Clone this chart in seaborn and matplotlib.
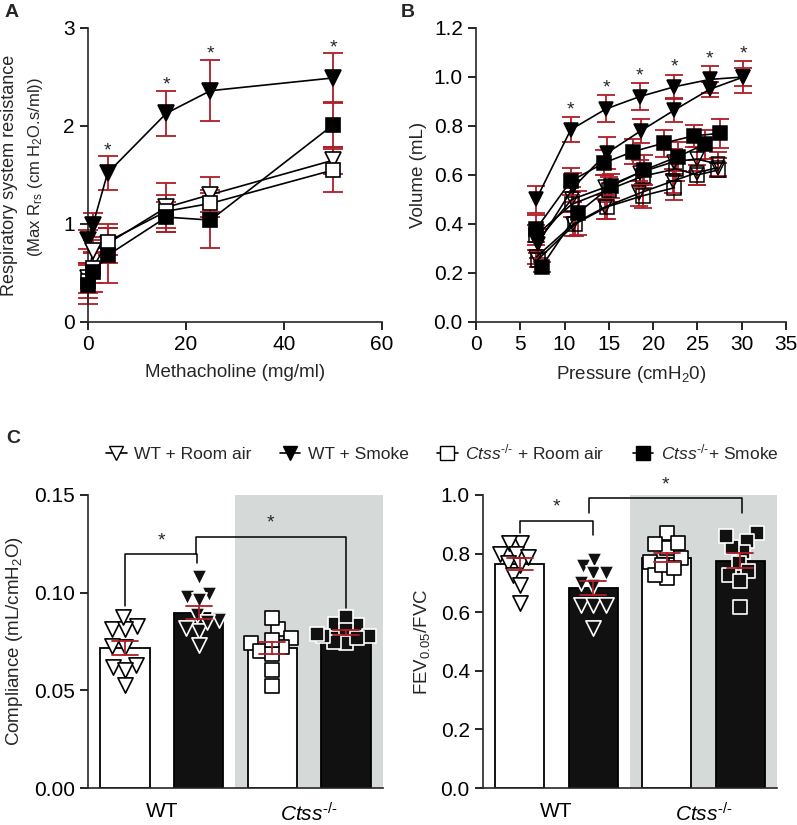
import numpy as np
import pandas as pd
import matplotlib

matplotlib.use('Agg')

import matplotlib.pyplot as plt
import seaborn as sns
from matplotlib.lines import Line2D

# ============================================================
# Data
# ============================================================

# Panel A - methacholine dose response
mch_dose = [0, 1, 4, 16, 25, 50]
rrs_wt_ra = [0.45, 0.72, 0.80, 1.17, 1.30, 1.65]
rrs_wt_ra_sem = [0.15, 0.12, 0.20, 0.25, 0.18, 0.14]
rrs_wt_sm = [0.84, 0.99, 1.52, 2.13, 2.36, 2.49]
rrs_wt_sm_sem = [0.10, 0.12, 0.17, 0.23, 0.31, 0.25]
rrs_ko_ra = [0.42, 0.55, 0.82, 1.13, 1.21, 1.55]
rrs_ko_ra_sem = [0.18, 0.15, 0.14, 0.17, 0.14, 0.22]
rrs_ko_sm = [0.38, 0.51, 0.68, 1.07, 1.04, 2.01]
rrs_ko_sm_sem = [0.20, 0.20, 0.28, 0.15, 0.28, 0.22]
rrs_star_dose = [4, 16, 25, 50]

# Panel B - pressure volume loops (two limbs per group)
pv_wt_sm_p1 = [6.8, 10.7, 14.7, 18.5, 22.4, 26.4, 30.2]
pv_wt_sm_v1 = [0.50, 0.785, 0.87, 0.92, 0.96, 0.99, 1.00]
pv_wt_sm_e1 = [0.055, 0.05, 0.055, 0.055, 0.05, 0.055, 0.065]
pv_wt_sm_p2 = [7.0, 11.0, 14.8, 18.6, 22.4, 26.4, 30.2]
pv_wt_sm_v2 = [0.32, 0.55, 0.69, 0.78, 0.865, 0.95, 1.00]
pv_wt_sm_e2 = [0.06, 0.06, 0.065, 0.05, 0.05, 0.03, 0.035]

pv_ko_sm_p1 = [6.8, 10.7, 14.5, 17.7, 21.2, 24.6, 27.6]
pv_ko_sm_v1 = [0.38, 0.575, 0.65, 0.695, 0.73, 0.76, 0.77]
pv_ko_sm_e1 = [0.055, 0.055, 0.05, 0.05, 0.055, 0.045, 0.06]
pv_ko_sm_p2 = [7.4, 11.5, 15.3, 19.0, 22.8, 25.8]
pv_ko_sm_v2 = [0.225, 0.445, 0.555, 0.62, 0.675, 0.725]
pv_ko_sm_e2 = [0.02, 0.09, 0.05, 0.06, 0.06, 0.06]

pv_wt_ra_p1 = [6.9, 10.8, 14.6, 18.5, 22.4, 24.9, 27.3]
pv_wt_ra_v1 = [0.33, 0.50, 0.55, 0.61, 0.655, 0.665, 0.645]
pv_wt_ra_e1 = [0.05, 0.05, 0.05, 0.05, 0.05, 0.05, 0.05]
pv_wt_ra_p2 = [6.8, 11.0, 14.6, 18.4, 22.2, 25.0, 27.3]
pv_wt_ra_v2 = [0.265, 0.40, 0.47, 0.525, 0.575, 0.61, 0.63]
pv_wt_ra_e2 = [0.03, 0.05, 0.05, 0.05, 0.05, 0.05, 0.04]

pv_ko_ra_p1 = [6.8, 10.8, 15.0, 18.8, 22.6, 25.0, 27.3]
pv_ko_ra_v1 = [0.355, 0.48, 0.54, 0.595, 0.625, 0.60, 0.62]
pv_ko_ra_e1 = [0.04, 0.05, 0.05, 0.05, 0.05, 0.04, 0.03]
pv_ko_ra_p2 = [7.0, 11.2, 14.8, 18.8, 22.4]
pv_ko_ra_v2 = [0.255, 0.40, 0.47, 0.515, 0.548]
pv_ko_ra_e2 = [0.03, 0.05, 0.05, 0.05, 0.05]

pv_star_p = [10.7, 14.7, 18.5, 22.4, 26.4, 30.2]

# Panel C - compliance and FEV0.05/FVC, individual animals
groups = ['WT + Room air', 'WT + Smoke', 'Ctss + Room air', 'Ctss + Smoke']
comp_wt_ra = [0.0827, 0.0813, 0.0813, 0.0873, 0.0724, 0.0728, 0.0622, 0.0630, 0.0605, 0.0528]
comp_wt_sm = [0.0992, 0.0980, 0.1080, 0.0963, 0.0860, 0.0886, 0.0806, 0.0818, 0.0733, 0.0850]
comp_ko_ra = [0.0813, 0.0767, 0.0869, 0.0724, 0.0741, 0.0700, 0.0685, 0.0605, 0.0520, 0.0760]
comp_ko_sm = [0.0839, 0.0835, 0.0873, 0.0776, 0.0810, 0.0741, 0.0750, 0.0780, 0.0770, 0.0790]

fev_wt_ra = [0.835, 0.798, 0.835, 0.798, 0.767, 0.760, 0.727, 0.693, 0.630, 0.790]
fev_wt_sm = [0.758, 0.778, 0.735, 0.735, 0.690, 0.625, 0.625, 0.625, 0.545, 0.700]
fev_ko_ra = [0.869, 0.820, 0.833, 0.835, 0.770, 0.784, 0.718, 0.727, 0.760, 0.750]
fev_ko_sm = [0.869, 0.843, 0.805, 0.824, 0.767, 0.739, 0.727, 0.707, 0.619, 0.860]

# ============================================================
# Style
# ============================================================

sns.set_style('ticks')
plt.rcParams['font.family'] = ['Liberation Sans', 'DejaVu Sans']
plt.rcParams['mathtext.fontset'] = 'custom'
plt.rcParams['mathtext.rm'] = 'Liberation Sans'
plt.rcParams['mathtext.it'] = 'Liberation Sans:italic'
plt.rcParams['mathtext.bf'] = 'Liberation Sans:bold'
plt.rcParams['axes.linewidth'] = 1.2

RED = '#b01e26'
BLACK = '#111111'
GRAY = '#d5dad9'
TICK_FS = 15
LAB_FS = 13.5

face = {groups[0]: 'white', groups[1]: BLACK, groups[2]: 'white', groups[3]: BLACK}
edge = {groups[0]: 'black', groups[1]: 'white', groups[2]: 'black', groups[3]: 'white'}
mark = {groups[0]: 'v', groups[1]: 'v', groups[2]: 's', groups[3]: 's'}

fig = plt.figure(figsize=(7.97, 8.25), dpi=100)

ax_a = fig.add_axes([0.1104, 0.6097, 0.3689, 0.3564])
ax_b = fig.add_axes([0.5972, 0.6097, 0.3890, 0.3564])
ax_c = fig.add_axes([0.1104, 0.0448, 0.3701, 0.3552])
ax_d = fig.add_axes([0.6060, 0.0448, 0.3689, 0.3552])


def style_ax(ax):
    sns.despine(ax=ax)
    ax.tick_params(direction='out', length=6, width=1.2, labelsize=TICK_FS,
                   colors='black')
    ax.set_facecolor('none')


# ============================================================
# Panel A
# ============================================================

series_a = [
    (rrs_wt_sm, rrs_wt_sm_sem, groups[1]),
    (rrs_wt_ra, rrs_wt_ra_sem, groups[0]),
    (rrs_ko_ra, rrs_ko_ra_sem, groups[2]),
    (rrs_ko_sm, rrs_ko_sm_sem, groups[3]),
]

for vals, sem, g in series_a:
    ax_a.errorbar(mch_dose, vals, yerr=sem, fmt='none', ecolor=RED,
                  elinewidth=1.3, capsize=7.5, capthick=1.3, zorder=2, clip_on=False)
    sns.lineplot(x=mch_dose, y=vals, ax=ax_a, color='black', lw=1.2,
                 marker=mark[g], markersize=11 if mark[g] == 'v' else 10,
                 markerfacecolor='black' if face[g] == BLACK else 'white',
                 markeredgecolor='black', markeredgewidth=1.2,
                 zorder=3, clip_on=False)

for d in rrs_star_dose:
    i = mch_dose.index(d)
    ax_a.text(d, rrs_wt_sm[i] + rrs_wt_sm_sem[i] + 0.06, '*', ha='center',
              va='center', fontsize=14)

ax_a.set_xlim(0, 60)
ax_a.set_ylim(0, 3)
ax_a.set_xticks([0, 20, 40, 60])
ax_a.set_yticks([0, 1, 2, 3])
ax_a.set_xlabel('Methacholine (mg/ml)', fontsize=LAB_FS, labelpad=7)
style_ax(ax_a)

fig.text(0.0125, 0.788, 'Respiratory system resistance', rotation=90,
         ha='center', va='center', fontsize=13)
fig.text(0.0445, 0.797, r'(Max R$_{\rm rs}$ (cm H$_2$O.s/ml))', rotation=90,
         ha='center', va='center', fontsize=12)

# ============================================================
# Panel B
# ============================================================

series_b = [
    (pv_wt_ra_p1, pv_wt_ra_v1, pv_wt_ra_e1, groups[0]),
    (pv_wt_ra_p2, pv_wt_ra_v2, pv_wt_ra_e2, groups[0]),
    (pv_ko_ra_p1, pv_ko_ra_v1, pv_ko_ra_e1, groups[2]),
    (pv_ko_ra_p2, pv_ko_ra_v2, pv_ko_ra_e2, groups[2]),
    (pv_ko_sm_p1, pv_ko_sm_v1, pv_ko_sm_e1, groups[3]),
    (pv_ko_sm_p2, pv_ko_sm_v2, pv_ko_sm_e2, groups[3]),
    (pv_wt_sm_p1, pv_wt_sm_v1, pv_wt_sm_e1, groups[1]),
    (pv_wt_sm_p2, pv_wt_sm_v2, pv_wt_sm_e2, groups[1]),
]

for p, v, e, g in series_b:
    ax_b.errorbar(p, v, yerr=e, fmt='none', ecolor=RED, elinewidth=1.3,
                  capsize=6.5, capthick=1.3, zorder=2)
    sns.lineplot(x=p, y=v, ax=ax_b, sort=False, color='black', lw=1.2,
                 marker=mark[g], markersize=10.5 if mark[g] == 'v' else 9.5,
                 markerfacecolor='black' if face[g] == BLACK else 'none',
                 markeredgecolor='black', markeredgewidth=1.1, zorder=3)

for p in pv_star_p:
    i = pv_wt_sm_p1.index(p)
    ax_b.text(p, pv_wt_sm_v1[i] + pv_wt_sm_e1[i] + 0.03, '*', ha='center',
              va='center', fontsize=14)

ax_b.set_xlim(0, 35)
ax_b.set_ylim(0, 1.2)
ax_b.set_xticks(range(0, 36, 5))
ax_b.set_yticks(np.arange(0, 1.21, 0.2))
ax_b.yaxis.set_major_formatter(matplotlib.ticker.FormatStrFormatter('%.1f'))
ax_b.set_xlabel('Pressure (cmH$_2$0)', fontsize=LAB_FS, labelpad=7)
ax_b.set_ylabel('Volume (mL)', fontsize=LAB_FS, labelpad=5)
style_ax(ax_b)

# ============================================================
# Panel C - bars with individual points
# ============================================================

comp_df = pd.DataFrame({
    'group': np.repeat(groups, 10),
    'value': comp_wt_ra + comp_wt_sm + comp_ko_ra + comp_ko_sm,
})
fev_df = pd.DataFrame({
    'group': np.repeat(groups, 10),
    'value': fev_wt_ra + fev_wt_sm + fev_ko_ra + fev_ko_sm,
})


def bar_panel(ax, df, ylim, yticks, fmt, ylabel):
    ax.set_xlim(-0.5, 3.52)
    ax.set_ylim(*ylim)
    ax.axvspan(1.5, 3.52, color=GRAY, zorder=0, lw=0)
    sns.barplot(data=df, x='group', y='value', hue='group', order=groups,
                hue_order=groups, palette=face, edgecolor='black', linewidth=1.3,
                width=0.67, errorbar='se', capsize=0.35, legend=False,
                err_kws={'color': RED, 'linewidth': 1.3, 'zorder': 6}, ax=ax)
    ax.set_xlim(-0.5, 3.52)
    ax.set_ylim(*ylim)
    for g in groups:
        sub = df[df['group'] == g]
        # let the swarm place the points with a small footprint, then
        # redraw them at full size so they overlap like the original
        n_before = len(ax.collections)
        sns.swarmplot(data=sub, x='group', y='value', order=groups,
                      size=8.5, ax=ax, warn_thresh=1)
        fig.canvas.draw()
        new = ax.collections[n_before:]
        offs = np.vstack([np.asarray(c.get_offsets()).reshape(-1, 2) for c in new])
        for c in list(new):
            c.remove()
        sns.scatterplot(x=offs[:, 0], y=offs[:, 1], ax=ax, marker=mark[g],
                        color=face[g], edgecolor=edge[g], linewidth=1.2,
                        s=120 if mark[g] == 'v' else 105, zorder=4, legend=False)
    ax.set_yticks(yticks)
    ax.yaxis.set_major_formatter(matplotlib.ticker.FormatStrFormatter(fmt))
    ax.set_xticks([0.5, 2.5])
    ax.set_xticklabels(['WT', r'$\mathit{Ctss}^{\text{-/-}}$'])
    ax.set_xlabel('')
    ax.set_ylabel(ylabel, fontsize=LAB_FS, labelpad=6)
    style_ax(ax)
    ax.tick_params(axis='x', length=0, pad=10)


bar_panel(ax_c, comp_df, (0, 0.15), [0, 0.05, 0.10, 0.15], '%.2f',
          'Compliance (mL/cmH$_2$O)')
bar_panel(ax_d, fev_df, (0, 1.0), np.arange(0, 1.01, 0.2), '%.1f',
          'FEV$_{0.05}$/FVC')


def bracket(ax, x1, x2, y, y1, y2, star_y):
    ax.plot([x1, x1, x2, x2], [y1, y, y, y2], color='black', lw=1.1,
            zorder=7, clip_on=False)
    ax.text((x1 + x2) / 2, star_y, '*', ha='center', va='center',
            fontsize=14, clip_on=False)


bracket(ax_c, 0.0, 0.98, 0.1198, 0.093, 0.115, 0.1265)
bracket(ax_c, 0.96, 3.0, 0.1287, 0.1198, 0.092, 0.1355)
bracket(ax_d, 0.0, 1.0, 0.9125, 0.869, 0.864, 0.96)
bracket(ax_d, 0.94, 3.03, 0.989, 0.94, 0.94, 1.034)

# ============================================================
# Legend and panel letters
# ============================================================

handles = [
    Line2D([], [], color='black', lw=1.2, marker=mark[g],
           markerfacecolor='black' if face[g] == BLACK else 'white',
           markeredgecolor='black', markersize=10)
    for g in groups
]
labels = ['WT + Room air', 'WT + Smoke',
          r'$\mathit{Ctss}^{\text{-/-}}$ + Room air',
          r'$\mathit{Ctss}^{\text{-/-}}$+ Smoke']
fig.legend(handles, labels, loc='center', bbox_to_anchor=(0.555, 0.452),
           ncol=4, frameon=False, fontsize=12.5, handlelength=1.2,
           handletextpad=0.45, columnspacing=1.6)

fig.text(0.006, 0.985, 'A', fontsize=14, fontweight='bold', va='center')
fig.text(0.503, 0.985, 'B', fontsize=14, fontweight='bold', va='center')
fig.text(0.008, 0.468, 'C', fontsize=14, fontweight='bold', va='center')

fig.savefig('out.png', dpi=100)
